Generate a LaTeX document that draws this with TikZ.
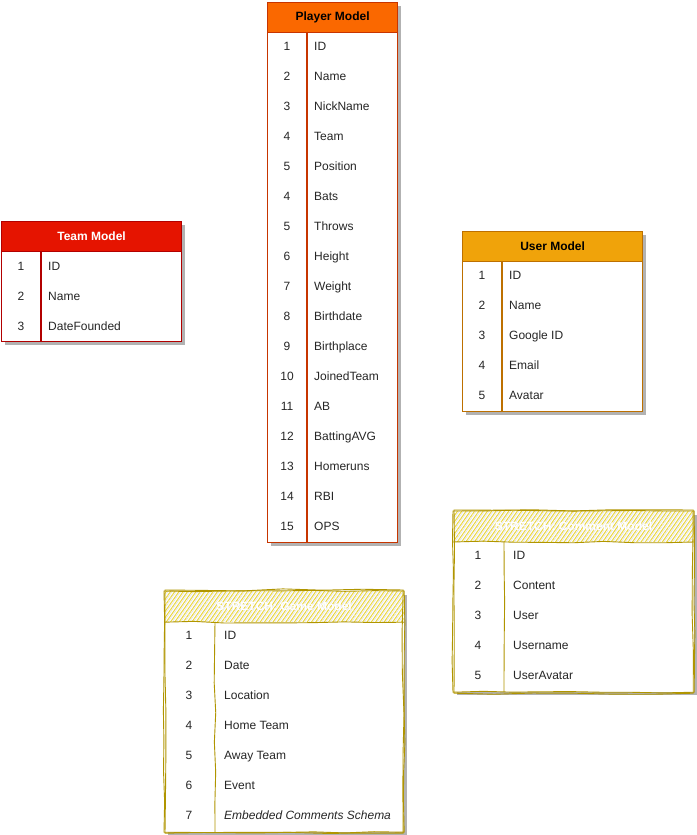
\documentclass[tikz,border=0pt]{standalone}
\usepackage{fontspec}
\setmainfont{Liberation Sans}
\usetikzlibrary{patterns.meta,shadows,decorations.pathmorphing}
\definecolor{playerfill}{HTML}{FA6800}
\definecolor{playerline}{HTML}{C73500}
\definecolor{teamfill}{HTML}{E51400}
\definecolor{teamline}{HTML}{B20000}
\definecolor{userfill}{HTML}{F0A30A}
\definecolor{userline}{HTML}{BD7000}
\definecolor{stretchfill}{HTML}{E3C800}
\definecolor{stretchline}{HTML}{B09500}

\begin{document}
\begin{tikzpicture}[
  x=1pt,y=-1pt,
  tbl/.style={draw, fill=white, line width=1.2pt, anchor=north west, inner sep=0pt, drop shadow={shadow xshift=3pt, shadow yshift=-3pt, opacity=0.3, fill=black}},
  hdr/.style={draw, line width=1.2pt, anchor=north west, inner sep=0pt, minimum height=30pt, font=\fontsize{12}{14}\selectfont\bfseries},
  idx/.style={inner sep=0pt, text height=9pt, text depth=3pt, font=\fontsize{12}{14}\selectfont, text=black!85},
  fld/.style={anchor=west, inner sep=0pt, text height=9pt, text depth=3pt, font=\fontsize{12}{14}\selectfont, text=black!85},
  sketch/.style={decorate, decoration={random steps, segment length=30pt, amplitude=0.9pt}, line width=0.9pt, draw=stretchline},
  hatch/.style={pattern={Lines[angle=55, distance=3.5pt, line width=1pt]}, pattern color=stretchfill!75,
    postaction={pattern={Lines[angle=55, distance=3.5pt, line width=0.5pt, xshift=1.7pt]}, pattern color=black!12}}
]
\useasboundingbox (0,0) rectangle (696,835);

\node[tbl, draw=playerline, minimum width=130pt, minimum height=540pt] (player-box) at (267,2) {};
\node[hdr, fill=playerfill, draw=playerline, minimum width=130pt] (player) at (player-box.north west) {Player Model};
\draw[playerline, line width=1.2pt] ([xshift=40pt]player.south west) -- ([xshift=40pt]player-box.south west);
\foreach \n/\f [count=\i] in {1/ID,2/Name,3/NickName,4/Team,5/Position,4/Bats,5/Throws,6/Height,7/Weight,8/Birthdate,9/Birthplace,10/JoinedTeam,11/AB,12/BattingAVG,13/Homeruns,14/RBI,15/OPS}{
  \node[idx] (player-n\i) at (287,17+30*\i) {\n};
  \node[fld] (player-f\i) at (314,17+30*\i) {\f};
}

\node[tbl, draw=teamline, minimum width=180pt, minimum height=120pt] (team-box) at (1,221) {};
\node[hdr, fill=teamfill, draw=teamline, text=white, minimum width=180pt] (team) at (team-box.north west) {Team Model};
\draw[teamline, line width=1.2pt] ([xshift=40pt]team.south west) -- ([xshift=40pt]team-box.south west);
\foreach \f [count=\i] in {ID,Name,DateFounded}{
  \node[idx] (team-n\i) at (21,237+30*\i) {\i};
  \node[fld] (team-f\i) at (48,237+30*\i) {\f};
}

\node[tbl, draw=userline, minimum width=180pt, minimum height=180pt] (user-box) at (462,231) {};
\node[hdr, fill=userfill, draw=userline, minimum width=180pt] (user) at (user-box.north west) {User Model};
\draw[userline, line width=1.2pt] ([xshift=40pt]user.south west) -- ([xshift=40pt]user-box.south west);
\foreach \f [count=\i] in {ID,Name,Google ID,Email,Avatar}{
  \node[idx] (user-n\i) at (482,246+30*\i) {\i};
  \node[fld] (user-f\i) at (509,246+30*\i) {\f};
}

\node[tbl, draw=none, minimum width=240pt, minimum height=180pt] (comment-box) at (453,511) {};
\node[hdr, draw=none, hatch, text=white, minimum width=240pt] (comment) at (comment-box.north west) {STRETCH: Comment Model};
\draw[sketch] (comment-box.north west) rectangle (comment-box.south east);
\draw[sketch, decoration={random steps, segment length=40pt, amplitude=1.2pt}] ([shift={(1pt,1pt)}]comment-box.north west) rectangle ([shift={(-1pt,-1pt)}]comment-box.south east);
\draw[sketch] (comment.south west) -- (comment.south east);
\draw[sketch] ([xshift=51pt]comment.south west) -- ([xshift=51pt]comment-box.south west);
\foreach \f [count=\i] in {ID,Content,User,Username,UserAvatar}{
  \node[idx] (comment-n\i) at (478,526+30*\i) {\i};
  \node[fld] (comment-f\i) at (513,526+30*\i) {\f};
}

\node[tbl, draw=none, minimum width=239pt, minimum height=240pt] (game-box) at (164,591) {};
\node[hdr, draw=none, hatch, text=white, minimum width=239pt] (game) at (game-box.north west) {STRETCH: Game Model};
\draw[sketch] (game-box.north west) rectangle (game-box.south east);
\draw[sketch, decoration={random steps, segment length=40pt, amplitude=1.2pt}] ([shift={(1pt,1pt)}]game-box.north west) rectangle ([shift={(-1pt,-1pt)}]game-box.south east);
\draw[sketch] (game.south west) -- (game.south east);
\draw[sketch] ([xshift=51pt]game.south west) -- ([xshift=51pt]game-box.south west);
\foreach \f [count=\i] in {ID,Date,Location,Home Team,Away Team,Event,{\itshape Embedded Comments Schema}}{
  \node[idx] (game-n\i) at (189,606+30*\i) {\i};
  \node[fld] (game-f\i) at (224,606+30*\i) {\f};
}
\end{tikzpicture}
\end{document}
